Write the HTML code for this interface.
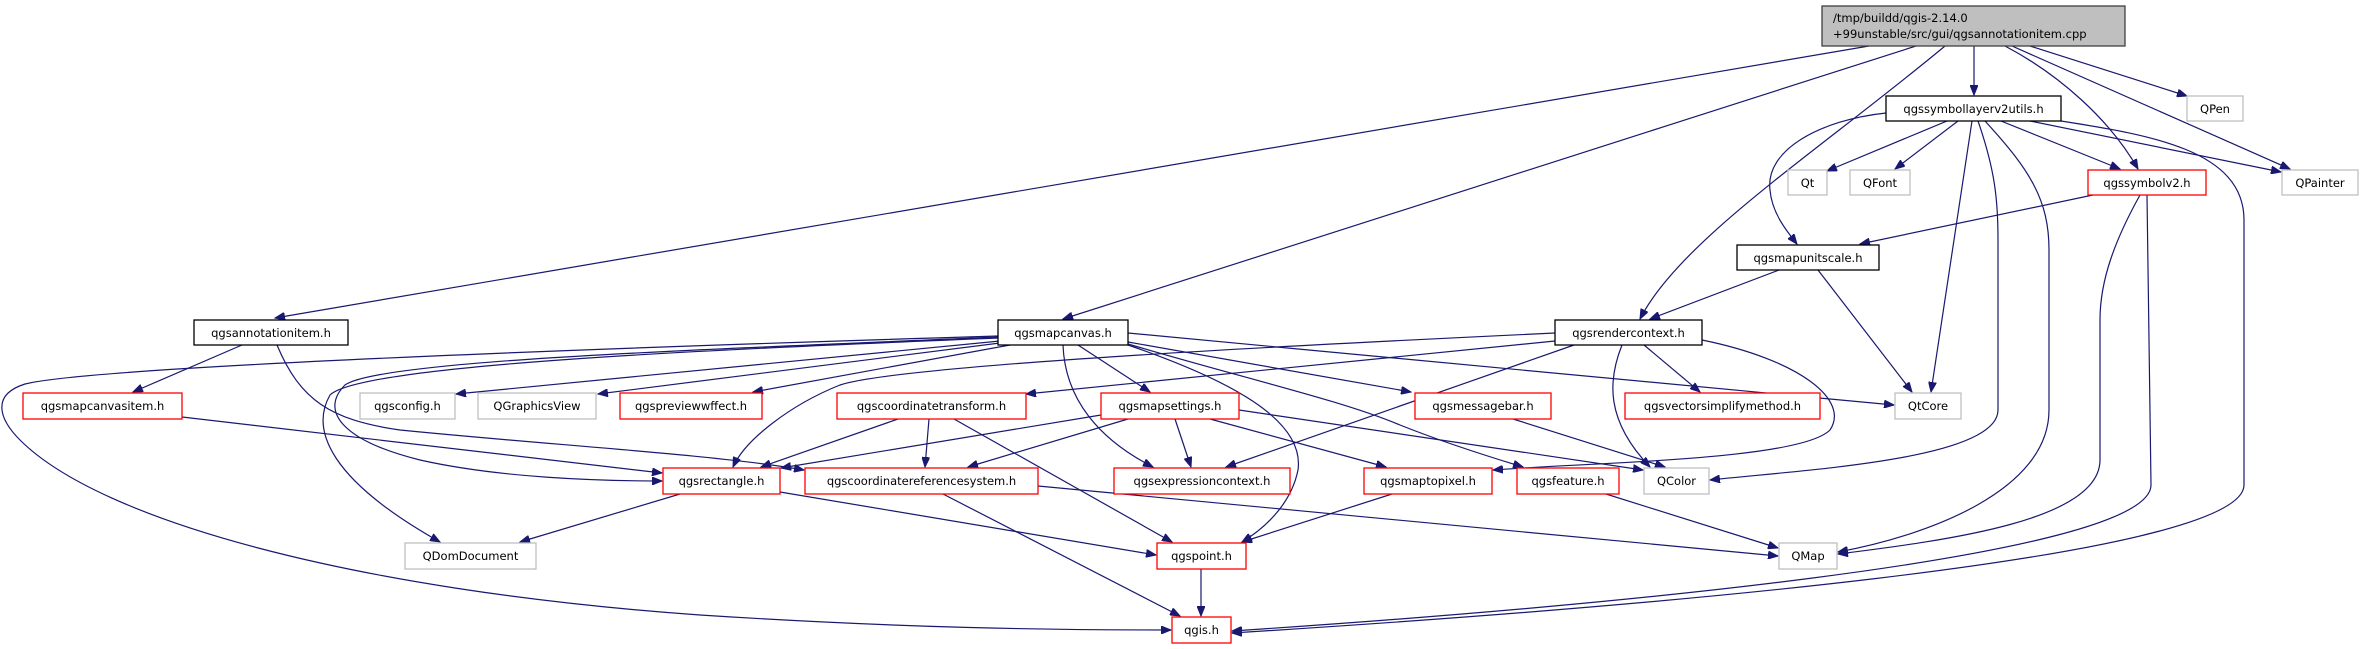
<!DOCTYPE html>
<html><head><meta charset="utf-8"><style>
html,body{margin:0;padding:0;background:#fff;}
svg{display:block;}
text{font-family:"DejaVu Sans","Liberation Sans",sans-serif;font-size:11.5px;fill:#000;}
.e{fill:none;stroke:#191970;stroke-width:1.2;marker-end:url(#a);}
.b{fill:#fff;stroke:#000;stroke-width:1.3;}
.r{fill:#fff;stroke:#ff0000;stroke-width:1.3;}
.g{fill:#fff;stroke:#bfbfbf;stroke-width:1.3;}
</style></head><body>
<svg width="2364" height="649" viewBox="0 0 2364 649" xmlns="http://www.w3.org/2000/svg">
<defs><marker id="a" markerWidth="11" markerHeight="8" refX="10" refY="4" orient="auto" markerUnits="userSpaceOnUse"><path d="M0,0 L10,4 L0,8 z" fill="#191970" stroke="#191970"/></marker></defs>

<!-- edges -->
<path class="e" d="M1869,46 L275,318"/>
<path class="e" d="M1916,46 L1063,319"/>
<path class="e" d="M1945,46 C1820,150 1680,240 1640,319"/>
<path class="e" d="M1974,46 L1974,95"/>
<path class="e" d="M2005,46 C2060,75 2110,120 2138,169"/>
<path class="e" d="M2030,46 L2187,96"/>
<path class="e" d="M2012,46 L2290,169"/>

<path class="e" d="M1886,113 C1820,120 1765,150 1770,190 C1772,215 1790,235 1797,244"/>
<path class="e" d="M1947,121 L1827,171"/>
<path class="e" d="M1958,121 L1895,169"/>
<path class="e" d="M1972,121 L1931,392"/>
<path class="e" d="M1978,121 C1995,170 1998,200 1998,240 L1998,410 C1998,460 1800,470 1710,480"/>
<path class="e" d="M1985,121 C2030,170 2049,200 2049,250 L2049,410 C2049,490 1930,535 1838,552"/>
<path class="e" d="M2001,121 L2120,169"/>
<path class="e" d="M2030,121 L2281,172"/>
<path class="e" d="M2061,121 C2150,135 2244,150 2244,220 L2244,485 C2244,560 1600,610 1232,633"/>

<path class="e" d="M2093,195 L1860,244"/>
<path class="e" d="M2140,195 C2115,240 2100,280 2100,320 L2100,460 C2100,520 1950,540 1838,554"/>
<path class="e" d="M2147,195 L2151,485 C2151,560 1550,610 1232,631"/>

<path class="e" d="M1779,270 L1650,319"/>
<path class="e" d="M1818,270 L1912,392"/>

<path class="e" d="M1555,341 L1026,394"/>
<path class="e" d="M1555,333 C1300,345 900,365 840,385 C790,405 745,440 733,467"/>
<path class="e" d="M1574,345 L1226,467"/>
<path class="e" d="M1644,345 L1700,392"/>
<path class="e" d="M1622,345 C1608,380 1605,420 1650,467"/>
<path class="e" d="M1702,340 C1800,360 1850,400 1830,430 C1800,460 1600,462 1493,470"/>

<path class="e" d="M998,336 C700,345 100,365 25,384 C-10,395 0,420 20,440 C100,520 350,590 700,615 C900,628 1050,630 1171,630"/>
<path class="e" d="M998,337 C700,350 380,360 345,385 C320,410 340,440 420,460 C500,478 600,481 662,481"/>
<path class="e" d="M998,338 C700,350 360,365 330,395 C310,430 330,480 440,542"/>
<path class="e" d="M1000,341 L456,394"/>
<path class="e" d="M1000,343 L598,394"/>
<path class="e" d="M1010,345 L753,392"/>
<path class="e" d="M1128,333 L1894,405"/>
<path class="e" d="M1078,345 L1150,392"/>
<path class="e" d="M1063,345 C1065,400 1100,440 1153,467"/>
<path class="e" d="M1128,345 C1230,380 1305,420 1298,470 C1292,500 1270,525 1242,542"/>
<path class="e" d="M1128,342 L1411,392"/>
<path class="e" d="M1128,344 C1250,380 1340,400 1400,425 C1450,445 1500,460 1523,467"/>

<path class="e" d="M242,345 L133,392"/>
<path class="e" d="M277,345 C300,400 330,420 400,430 C550,445 720,455 804,470"/>
<path class="e" d="M182,417 L662,473"/>

<path class="e" d="M898,419 L761,467"/>
<path class="e" d="M929,419 L925,467"/>
<path class="e" d="M954,419 L1172,542"/>
<path class="e" d="M1101,415 L781,468"/>
<path class="e" d="M1128,419 L968,467"/>
<path class="e" d="M1175,419 L1191,467"/>
<path class="e" d="M1210,419 L1386,467"/>
<path class="e" d="M1239,410 L1643,470"/>
<path class="e" d="M1513,419 L1665,467"/>

<path class="e" d="M680,494 L520,542"/>
<path class="e" d="M780,492 L1156,555"/>
<path class="e" d="M1038,486 L1778,556"/>
<path class="e" d="M943,494 L1180,616"/>
<path class="e" d="M1392,494 L1242,542"/>
<path class="e" d="M1606,494 L1778,548"/>
<path class="e" d="M1201,569 L1201,616"/>

<!-- nodes -->
<rect x="1822" y="6" width="303" height="40" fill="#bfbfbf" stroke="#404040" stroke-width="1.3"/>
<text x="1833" y="22">/tmp/buildd/qgis-2.14.0</text>
<text x="1833" y="38">+99unstable/src/gui/qgsannotationitem.cpp</text>

<rect class="b" x="1886" y="96" width="175" height="25"/><text x="1973.5" y="113" text-anchor="middle">qgssymbollayerv2utils.h</text>
<rect class="g" x="2187" y="96" width="56" height="25"/><text x="2215" y="113" text-anchor="middle">QPen</text>
<rect class="g" x="1788" y="170" width="39" height="25"/><text x="1807.5" y="187" text-anchor="middle">Qt</text>
<rect class="g" x="1850" y="170" width="60" height="25"/><text x="1880" y="187" text-anchor="middle">QFont</text>
<rect class="r" x="2088" y="170" width="118" height="25"/><text x="2147" y="187" text-anchor="middle">qgssymbolv2.h</text>
<rect class="g" x="2282" y="170" width="76" height="25"/><text x="2320" y="187" text-anchor="middle">QPainter</text>
<rect class="b" x="1737" y="245" width="142" height="25"/><text x="1808" y="262" text-anchor="middle">qgsmapunitscale.h</text>

<rect class="b" x="194" y="320" width="154" height="25"/><text x="271" y="337" text-anchor="middle">qgsannotationitem.h</text>
<rect class="b" x="998" y="320" width="130" height="25"/><text x="1063" y="337" text-anchor="middle">qgsmapcanvas.h</text>
<rect class="b" x="1555" y="320" width="147" height="25"/><text x="1628.5" y="337" text-anchor="middle">qgsrendercontext.h</text>

<rect class="r" x="23" y="393" width="159" height="26"/><text x="102.5" y="410" text-anchor="middle">qgsmapcanvasitem.h</text>
<rect class="g" x="360" y="393" width="95" height="26"/><text x="407.5" y="410" text-anchor="middle">qgsconfig.h</text>
<rect class="g" x="478" y="393" width="118" height="26"/><text x="537" y="410" text-anchor="middle">QGraphicsView</text>
<rect class="r" x="620" y="393" width="142" height="26"/><text x="691" y="410" text-anchor="middle">qgspreviewwffect.h</text>
<rect class="r" x="837" y="393" width="189" height="26"/><text x="931.5" y="410" text-anchor="middle">qgscoordinatetransform.h</text>
<rect class="r" x="1101" y="393" width="138" height="26"/><text x="1170" y="410" text-anchor="middle">qgsmapsettings.h</text>
<rect class="r" x="1415" y="393" width="136" height="26"/><text x="1483" y="410" text-anchor="middle">qgsmessagebar.h</text>
<rect class="r" x="1625" y="393" width="195" height="26"/><text x="1722.5" y="410" text-anchor="middle">qgsvectorsimplifymethod.h</text>
<rect class="g" x="1895" y="393" width="66" height="26"/><text x="1928" y="410" text-anchor="middle">QtCore</text>

<rect class="r" x="663" y="468" width="117" height="26"/><text x="721.5" y="485" text-anchor="middle">qgsrectangle.h</text>
<rect class="r" x="805" y="468" width="233" height="26"/><text x="921.5" y="485" text-anchor="middle">qgscoordinatereferencesystem.h</text>
<rect class="r" x="1114" y="468" width="176" height="26"/><text x="1202" y="485" text-anchor="middle">qgsexpressioncontext.h</text>
<rect class="r" x="1364" y="468" width="128" height="26"/><text x="1428" y="485" text-anchor="middle">qgsmaptopixel.h</text>
<rect class="r" x="1517" y="468" width="102" height="26"/><text x="1568" y="485" text-anchor="middle">qgsfeature.h</text>
<rect class="g" x="1644" y="468" width="65" height="26"/><text x="1676.5" y="485" text-anchor="middle">QColor</text>

<rect class="g" x="405" y="543" width="131" height="26"/><text x="470.5" y="560" text-anchor="middle">QDomDocument</text>
<rect class="r" x="1157" y="543" width="89" height="26"/><text x="1201.5" y="560" text-anchor="middle">qgspoint.h</text>
<rect class="g" x="1779" y="543" width="58" height="26"/><text x="1808" y="560" text-anchor="middle">QMap</text>

<rect class="r" x="1172" y="617" width="59" height="26"/><text x="1201.5" y="634" text-anchor="middle">qgis.h</text>
</svg>
</body></html>
